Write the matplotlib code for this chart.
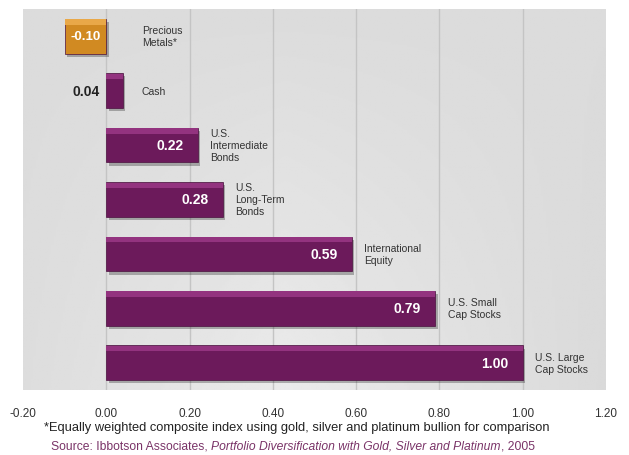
import numpy as np
import matplotlib.pyplot as plt
from matplotlib.patches import Rectangle

# data
categories = ['Precious\nMetals*', 'Cash', 'U.S.\nIntermediate\nBonds', 'U.S.\nLong-Term\nBonds',
              'International\nEquity', 'U.S. Small\nCap Stocks', 'U.S. Large\nCap Stocks']
values = [-0.10, 0.04, 0.22, 0.28, 0.59, 0.79, 1.00]
bar_colors = ['#d18a22', '#6c1a5b', '#6c1a5b', '#6c1a5b', '#6c1a5b', '#6c1a5b', '#6c1a5b']
top_colors = ['#e9a848', '#93337f', '#93337f', '#93337f', '#93337f', '#93337f', '#93337f']
xticks = [-0.2, 0.0, 0.2, 0.4, 0.6, 0.8, 1.0, 1.2]

plt.rcParams['font.family'] = ['Liberation Sans', 'DejaVu Sans']

fig = plt.figure(figsize=(6.29, 4.56), dpi=100)
ax = fig.add_axes([23 / 629, 1 - 391 / 456, 583 / 629, 381 / 456])

# gray gradient background
gx = np.linspace(0, 1, 256)
gy = np.linspace(0, 1, 256)
bg = 0.86 + 0.06 * (1 - np.abs(gx[None, :] - 0.45) * 2) * gy[:, None]
ax.imshow(bg, extent=(-0.2, 1.2, 6.5, -0.5), aspect='auto', cmap='gray', vmin=0, vmax=1, zorder=0)

for g in [0.0, 0.2, 0.4, 0.6, 0.8, 1.0]:
    ax.axvline(g, color='#c4c4c4', lw=1, zorder=1)

y = np.arange(len(values))
h = 0.64
for yi, v in zip(y, values):
    left = min(0, v)
    ax.add_patch(Rectangle((left + 0.006, yi - h / 2 + 0.06), abs(v), h, color='#00000045', lw=0, zorder=2))
ax.barh(y, values, height=h, color=bar_colors, edgecolor='#4a0f3e', lw=0.5, zorder=3)
ax.barh(y - h / 2 + 0.06, values, height=0.1, color=top_colors, lw=0, zorder=4)

for yi, v, cat in zip(y, values, categories):
    if v < 0:
        ax.text(v / 2, yi, f'{v:.2f}', color='white', fontsize=9.5, fontweight='bold',
                ha='center', va='center', zorder=5)
        ax.text(0.085, yi, cat, fontsize=7.5, color='#333333', ha='left', va='center', linespacing=1.25)
    elif v < 0.1:
        ax.text(-0.015, yi, f'{v:.2f}', color='#222222', fontsize=10, fontweight='bold',
                ha='right', va='center', zorder=5)
        ax.text(v + 0.045, yi, cat, fontsize=7.5, color='#333333', ha='left', va='center', linespacing=1.25)
    else:
        ax.text(v - 0.035, yi, f'{v:.2f}', color='white', fontsize=10, fontweight='bold',
                ha='right', va='center', zorder=5)
        ax.text(v + 0.03, yi, cat, fontsize=7.5, color='#333333', ha='left', va='center', linespacing=1.25)

ax.set_xlim(-0.2, 1.2)
ax.set_ylim(6.5, -0.5)
ax.set_yticks([])
ax.set_xticks(xticks)
ax.set_xticklabels([f'{t:.2f}' for t in xticks], fontsize=8.5, color='#333333')
ax.tick_params(axis='x', length=0, pad=12)
for s in ax.spines.values():
    s.set_visible(False)

fig.text(297 / 629, 1 - 428 / 456, '*Equally weighted composite index using gold, silver and platinum bullion for comparison',
         ha='center', va='center', fontsize=9.3, color='#222222')

# source line in three pieces (regular / italic / regular)
src = ['Source: Ibbotson Associates, ', 'Portfolio Diversification with Gold, Silver and Platinum', ', 2005']
styles = ['normal', 'italic', 'normal']
fig.canvas.draw()
r = fig.canvas.get_renderer()
parts = [fig.text(0, 1 - 447 / 456, s, fontsize=8.7, style=st, color='#7a3468', va='center')
         for s, st in zip(src, styles)]
widths = [p.get_window_extent(r).width for p in parts]
x0 = 293 - sum(widths) / 2
for p, w in zip(parts, widths):
    p.set_x(x0 / 629)
    x0 += w

fig.savefig('out.png', dpi=100)
